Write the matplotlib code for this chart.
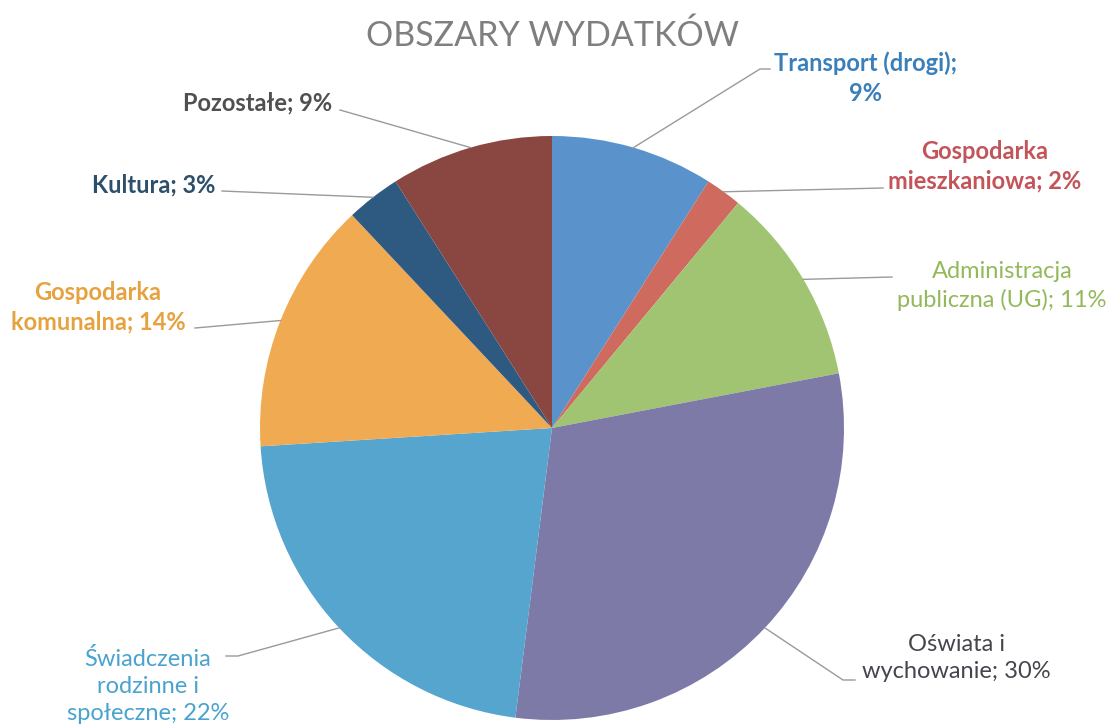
import matplotlib
matplotlib.use("Agg")
import matplotlib.pyplot as plt
import numpy as np

plt.rcParams['font.family'] = ['Lato', 'DejaVu Sans']

title = "OBSZARY WYDATKÓW"
names = ["Transport (drogi)", "Gospodarka\nmieszkaniowa", "Administracja\npubliczna (UG)",
         "Oświata i\nwychowanie", "Świadczenia\nrodzinne i\nspołeczne",
         "Gospodarka\nkomunalna", "Kultura", "Pozostałe"]
seps = [";\n", "; ", "; ", "; ", "; ", "; ", "; ", "; "]
shares = [9, 2, 11, 30, 22, 14, 3, 9]

wedge_colors = ["#5a93cb", "#cf6a5f", "#a0c472", "#7d7aa8", "#55a5cf", "#efaa52", "#2e5a82", "#8a4641"]
text_colors = ["#3a7fb9", "#c2545a", "#93b95b", "#45454d", "#4aa3cf", "#e6a23e", "#2c4f6c", "#505050"]
weights = ["bold", "bold", "normal", "normal", "normal", "bold", "bold", "bold"]

H = 724
def Y(y):
    return H - y

# label centres and leader line ends (image pixel coords)
label_pos = [(866, 78), (985, 166), (1002, 286), (956, 658), (148, 686), (98, 307), (154, 185), (258, 103)]
leader_end = [[(760, 69), (770, 69)], [(883, 188)], [(892, 277)], [(843, 680), (855, 680)],
              [(238, 656), (226, 656)], [(195, 328)], [(222, 191)], [(340, 110)]]

fig = plt.figure(figsize=(11.11, 7.24), dpi=100)
ax = fig.add_axes([0, 0, 1, 1])

cx, cy, r = 552, Y(428), 292
wedges, _ = ax.pie(shares, colors=wedge_colors, startangle=90, counterclock=False,
                   center=(cx, cy), radius=r, wedgeprops=dict(linewidth=0))
ax.set_xlim(0, 1111)
ax.set_ylim(0, H)
ax.set_aspect('equal')
ax.axis('off')

ax.text(552, Y(36), title, ha='center', va='center', fontsize=24.5, color='#7f7f7f')

for i, w in enumerate(wedges):
    mid = np.deg2rad((w.theta1 + w.theta2) / 2)
    pts = [(cx + r * np.cos(mid), cy + r * np.sin(mid))] + [(x, Y(y)) for x, y in leader_end[i]]
    xs, ys = zip(*pts)
    ax.plot(xs, ys, color='#9a9a9a', lw=1)
    label = "{}{}{}%".format(names[i], seps[i], shares[i])
    lx, ly = label_pos[i]
    ax.text(lx, Y(ly), label, ha='center', va='center', multialignment='center',
            fontsize=17, color=text_colors[i], fontweight=weights[i], linespacing=1.35)

fig.savefig("out.png", dpi=100, facecolor='white')
